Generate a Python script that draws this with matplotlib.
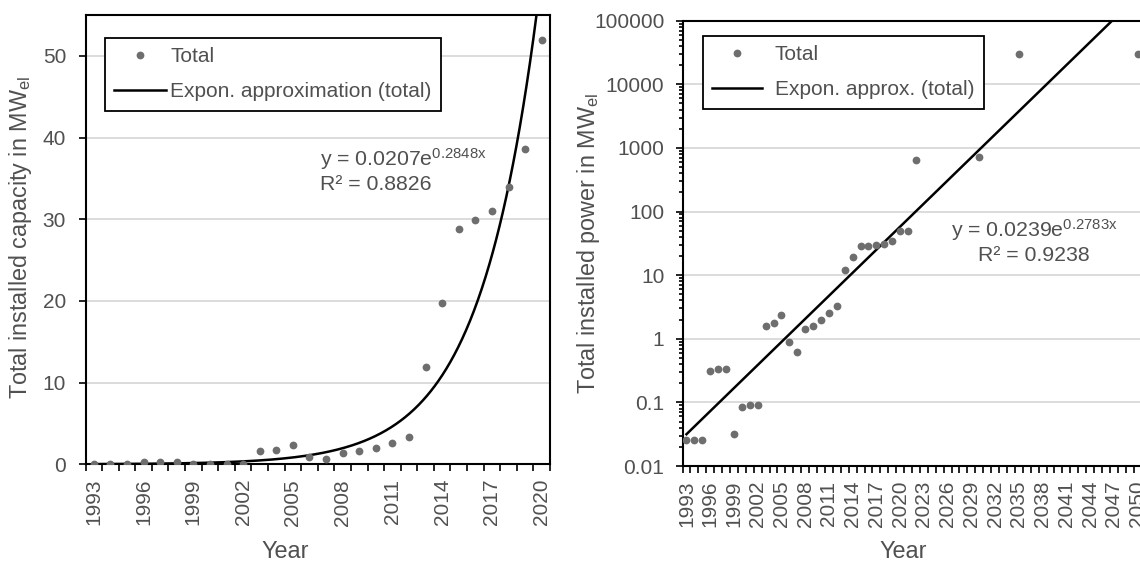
import numpy as np
import matplotlib
matplotlib.use('Agg')
import matplotlib.pyplot as plt
from matplotlib.ticker import LogLocator, NullFormatter

plt.rcParams['font.family'] = ['Liberation Sans', 'DejaVu Sans']
plt.rcParams['mathtext.fontset'] = 'custom'
plt.rcParams['mathtext.rm'] = 'Liberation Sans'
plt.rcParams['mathtext.it'] = 'Liberation Sans:italic'
plt.rcParams['mathtext.bf'] = 'Liberation Sans:bold'

# ---------------- data ----------------
years_left = list(range(1993, 2021))
capacity_left = [0.03, 0.03, 0.03, 0.30, 0.33, 0.33, 0.03, 0.085, 0.09, 0.09,
                 1.6, 1.8, 2.4, 0.9, 0.6, 1.4, 1.6, 2.0, 2.6, 3.3,
                 11.9, 19.7, 28.8, 29.9, 31.0, 34.0, 38.6, 52.0]
fit_left = (0.0207, 0.2848)      # y = a * exp(b * x), x = 1 for 1993
r2_left = 0.8826

years_right = list(range(1993, 2023)) + [2030, 2035, 2050]
power_right = [0.026, 0.026, 0.026, 0.31, 0.33, 0.33, 0.032, 0.085, 0.09, 0.09,
               1.6, 1.8, 2.4, 0.9, 0.62, 1.45, 1.6, 1.95, 2.5, 3.3,
               11.9, 19.5, 28.5, 28.5, 30.0, 31.0, 35.0, 50.0, 50.0, 650.0,
               730.0, 30000.0, 30000.0]
fit_right = (0.0239, 0.2783)
r2_right = 0.9238

left_yticks = [0, 10, 20, 30, 40, 50]
right_yticks = [0.01, 0.1, 1, 10, 100, 1000, 10000, 100000]
right_yticklabels = ['0.01', '0.1', '1', '10', '100', '1000', '10000', '100000']

# ---------------- style ----------------
TXT = '#505050'
DOT = '#6e6e6e'
GRID = '#d9d9d9'
W, H = 1140, 562
TICKFS = 15
LABFS = 16.8

fig = plt.figure(figsize=(W / 100, H / 100), dpi=100)


def px_axes(x0, x1, ytop, ybot):
    return fig.add_axes([x0 / W, 1 - ybot / H, (x1 - x0) / W, (ybot - ytop) / H])


def style_axes(ax):
    for s in ax.spines.values():
        s.set_color('black')
        s.set_linewidth(1.5)
    ax.yaxis.grid(True, which='major', color=GRID, lw=1.3)
    ax.set_axisbelow(True)
    ax.tick_params(axis='both', which='both', colors='black', labelcolor=TXT,
                   labelsize=TICKFS, direction='out', width=1.2)


# ---------------- left chart ----------------
ax1 = px_axes(85.5, 550, 15, 464.3)
style_axes(ax1)
ax1.plot(years_left, capacity_left, 'o', ms=5.6, color=DOT, mec='none',
         label='Total', zorder=3)
t1 = np.linspace(years_left[0], years_left[-1], 800)
a, b = fit_left
ax1.plot(t1, a * np.exp(b * (t1 - (years_left[0] - 1))), color='black', lw=1.8,
         label='Expon. approximation (total)', zorder=2)
ax1.set_xlim(years_left[0] - 0.5, years_left[-1] + 0.5)
ax1.set_ylim(0, 55)
ax1.set_yticks(left_yticks)
ax1.set_xticks(years_left[::3])
ax1.set_xticklabels([str(y) for y in years_left[::3]], rotation=90)
ax1.set_xticks(np.arange(years_left[0] - 0.5, years_left[-1] + 1, 1), minor=True)
ax1.tick_params(axis='x', which='major', length=0, pad=10.5)
ax1.tick_params(axis='x', which='minor', length=5)
ax1.tick_params(axis='y', which='major', length=5, pad=9)
ax1.set_xlabel('Year', fontsize=LABFS, color=TXT)
ax1.xaxis.label.set_va('center')
ax1.xaxis.set_label_coords(0.4295, -0.1945)
ax1.set_ylabel('Total installed capacity in MW$_{\\mathrm{el}}$', fontsize=LABFS, color=TXT)
ax1.yaxis.label.set_va('center')
ax1.yaxis.set_label_coords(-0.141, 0.505)
leg1 = ax1.legend(loc='upper left', bbox_to_anchor=(0.0413, 0.9495), fontsize=15,
                  frameon=True, fancybox=False, framealpha=1, edgecolor='black',
                  borderpad=0.45, labelspacing=0.78, handlelength=2.5,
                  handletextpad=0.2, borderaxespad=0)
leg1.get_frame().set_linewidth(1.3)
for t in leg1.get_texts():
    t.set_color(TXT)
ax1.text(0.5048, 0.6646, 'y = %.4fe$^{\\mathrm{%.4fx}}$' % fit_left, transform=ax1.transAxes,
         fontsize=15.3, color=TXT, ha='left', va='baseline')
ax1.text(0.5048, 0.6105, 'R² = %.4f' % r2_left, transform=ax1.transAxes,
         fontsize=15.3, color=TXT, ha='left', va='baseline')

# ---------------- right chart ----------------
ax2 = px_axes(682.5, 1141.5, 20.7, 466)
style_axes(ax2)
ax2.set_yscale('log')
ax2.plot(years_right, power_right, 'o', ms=5.6, color=DOT, mec='none',
         label='Total', zorder=3)
t2 = np.linspace(1993, 2050, 1200)
a, b = fit_right
ax2.plot(t2, a * np.exp(b * (t2 - 1992)), color='black', lw=1.8,
         label='Expon. approx. (total)', zorder=2)
ax2.set_xlim(1992.5, 2050.5)
ax2.set_ylim(0.01, 100000)
ax2.set_yticks(right_yticks)
ax2.set_yticklabels(right_yticklabels)
ax2.yaxis.set_minor_locator(LogLocator(base=10, subs=np.arange(2, 10)))
ax2.yaxis.set_minor_formatter(NullFormatter())
label_years = list(range(1993, 2051, 3))
ax2.set_xticks(label_years)
ax2.set_xticklabels([str(y) for y in label_years], rotation=90)
ax2.set_xticks(np.arange(1992.5, 2051, 1), minor=True)
ax2.tick_params(axis='x', which='major', length=0, pad=10.5)
ax2.tick_params(axis='x', which='minor', length=5)
ax2.tick_params(axis='y', which='major', length=5, pad=8)
ax2.tick_params(axis='y', which='minor', length=3)
ax2.set_xlabel('Year', fontsize=LABFS, color=TXT)
ax2.xaxis.label.set_va('center')
ax2.xaxis.set_label_coords(0.4815, -0.1925)
ax2.set_ylabel('Total installed power in MW$_{\\mathrm{el}}$', fontsize=LABFS, color=TXT)
ax2.yaxis.label.set_va('center')
ax2.yaxis.set_label_coords(-0.204, 0.5)
leg2 = ax2.legend(loc='upper left', bbox_to_anchor=(0.0447, 0.9663), fontsize=15,
                  frameon=True, fancybox=False, framealpha=1, edgecolor='black',
                  borderpad=0.45, labelspacing=0.78, handlelength=2.4,
                  handletextpad=0.6, borderaxespad=0)
leg2.get_frame().set_linewidth(1.3)
for t in leg2.get_texts():
    t.set_color(TXT)
ax2.text(0.7658, 0.5149, 'y = %.4fe$^{\\mathrm{%.4fx}}$' % fit_right, transform=ax2.transAxes,
         fontsize=15.3, color=TXT, ha='center', va='baseline')
ax2.text(0.7658, 0.461, 'R² = %.4f' % r2_right, transform=ax2.transAxes,
         fontsize=15.3, color=TXT, ha='center', va='baseline')

fig.savefig('out.png', dpi=100)
